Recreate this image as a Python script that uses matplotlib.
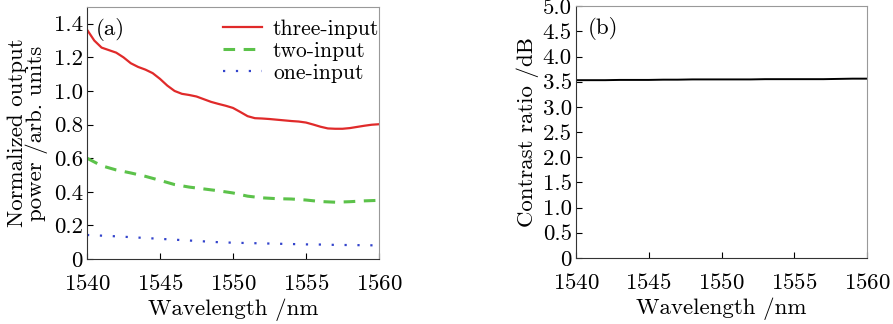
import matplotlib
matplotlib.use('Agg')
import matplotlib.pyplot as plt

plt.rcParams['font.family'] = ['cmr10', 'DejaVu Serif']
plt.rcParams['axes.formatter.use_mathtext'] = True
plt.rcParams['font.size'] = 16.5

# data
wl_fine = [1540, 1540.5, 1541, 1541.5, 1542, 1542.5, 1543, 1543.5, 1544, 1544.5, 1545,
           1545.5, 1546, 1546.5, 1547, 1547.5, 1548, 1548.5, 1549, 1549.5, 1550,
           1550.5, 1551, 1551.5, 1552, 1552.5, 1553, 1553.5, 1554, 1554.5, 1555,
           1555.5, 1556, 1556.5, 1557, 1557.5, 1558, 1558.5, 1559, 1559.5, 1560]
three_input = [1.365, 1.30, 1.258, 1.243, 1.228, 1.20, 1.165, 1.143, 1.127, 1.106, 1.072,
               1.032, 1.000, 0.983, 0.976, 0.967, 0.951, 0.935, 0.923, 0.912, 0.899,
               0.875, 0.850, 0.838, 0.836, 0.833, 0.829, 0.825, 0.821, 0.818, 0.812,
               0.800, 0.787, 0.777, 0.775, 0.775, 0.779, 0.786, 0.793, 0.799, 0.802]
wavelength = [1540, 1541, 1542, 1543, 1544, 1545, 1546, 1547, 1548, 1549, 1550,
              1551, 1552, 1553, 1554, 1555, 1556, 1557, 1558, 1559, 1560]
two_input = [0.60, 0.555, 0.53, 0.512, 0.492, 0.468, 0.443, 0.428, 0.417, 0.406, 0.393,
             0.374, 0.364, 0.359, 0.357, 0.351, 0.342, 0.338, 0.341, 0.346, 0.349]
one_input = [0.143, 0.139, 0.135, 0.13, 0.125, 0.12, 0.115, 0.11, 0.105, 0.10, 0.097,
             0.095, 0.093, 0.091, 0.089, 0.087, 0.086, 0.084, 0.083, 0.082, 0.081]
contrast = [3.53, 3.53, 3.53, 3.535, 3.535, 3.535, 3.54, 3.54, 3.545, 3.545, 3.545,
            3.545, 3.545, 3.55, 3.55, 3.55, 3.55, 3.55, 3.555, 3.56, 3.56]
xticks = [1540, 1545, 1550, 1555, 1560]

fig = plt.figure(figsize=(8.93, 3.24), dpi=100)
ax1 = fig.add_axes([0.0974, 0.2006, 0.327, 0.778])
ax2 = fig.add_axes([0.645, 0.204, 0.326, 0.777])

'''Panel (a)'''
ax1.plot(wl_fine, three_input, color='#e02a2a', lw=1.6, label='three-input')
ax1.plot(wavelength, two_input, color='#5cc24a', lw=2.2, ls=(0, (3.8, 2.8)), label='two-input')
ax1.plot(wavelength, one_input, color='#3344cc', lw=1.6, ls=(0, (1, 4.8)), label='one-input')
ax1.set_xlim(1540, 1560)
ax1.set_ylim(0, 1.5)
ax1.set_xticks(xticks)
ax1.set_yticks([0, 0.2, 0.4, 0.6, 0.8, 1.0, 1.2, 1.4])
ax1.set_yticklabels(['0', '0.2', '0.4', '0.6', '0.8', '1.0', '1.2', '1.4'])
ax1.set_xlabel('Wavelength /nm', labelpad=3)
ax1.set_ylabel('Normalized output\npower /arb. units', labelpad=4, linespacing=0.9)
ax1.text(0.03, 0.955, '(a)', transform=ax1.transAxes, va='top', ha='left')
ax1.legend(loc='upper right', bbox_to_anchor=(1.012, 0.965), frameon=False,
           handlelength=1.8, borderaxespad=0.0, labelspacing=0.12,
           handletextpad=0.5, borderpad=0.15, fontsize=15.5)

'''Panel (b)'''
ax2.plot(wavelength, contrast, color='black', lw=1.4)
ax2.set_xlim(1540, 1560)
ax2.set_ylim(0, 5.0)
ax2.set_xticks(xticks)
ax2.set_yticks([0, 0.5, 1.0, 1.5, 2.0, 2.5, 3.0, 3.5, 4.0, 4.5, 5.0])
ax2.set_yticklabels(['0', '0.5', '1.0', '1.5', '2.0', '2.5', '3.0', '3.5', '4.0', '4.5', '5.0'])
ax2.set_xlabel('Wavelength /nm', labelpad=3)
ax2.set_ylabel('Contrast ratio /dB', labelpad=3)
ax2.text(0.04, 0.955, '(b)', transform=ax2.transAxes, va='top', ha='left')

for ax in (ax1, ax2):
    ax.tick_params(direction='in', length=4, width=0.8, top=False, right=False)
    ax.tick_params(axis='x', pad=11)
    ax.tick_params(axis='y', pad=3)
    for s in ax.spines.values():
        s.set_linewidth(0.8)
        s.set_color('#333333')
    ax.spines['top'].set_color('#999999')
    ax.spines['right'].set_color('#999999')

fig.savefig('out.png', dpi=100)
